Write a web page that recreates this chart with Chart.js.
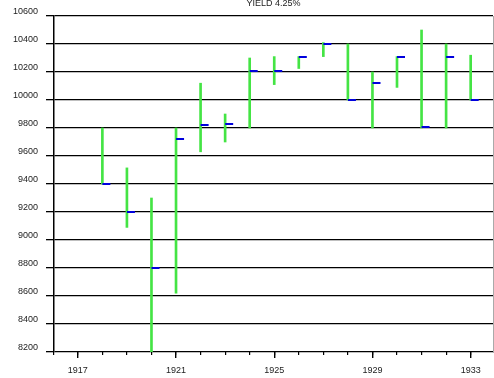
<!DOCTYPE html>
<html>
<head>
<meta charset="utf-8">
<script src="https://cdn.jsdelivr.net/npm/chart.js@4"></script>
<style>
  html, body { margin: 0; padding: 0; background: #fff; }
  #wrap { width: 494px; height: 378px; }
</style>
</head>
<body>
<div id="wrap"><canvas id="chart" width="494" height="378"></canvas></div>
<script>
const years = [1918, 1919, 1920, 1921, 1922, 1923, 1924, 1925, 1926, 1927, 1928, 1929, 1930, 1931, 1932, 1933];
const highs = [9800, 9515, 9300, 9800, 10120, 9900, 10300, 10310, 10310, 10410, 10400, 10200, 10310, 10500, 10400, 10320];
const lows = [9400, 9090, 8200, 8620, 9630, 9700, 9800, 10110, 10225, 10310, 10000, 9800, 10090, 9800, 9800, 10000];
const closes = [9400, 9200, 8800, 9720, 9820, 9830, 10210, 10210, 10310, 10400, 10000, 10120, 10310, 9810, 10310, 10000];
const minorTicks = [1916, 1917, 1918, 1919, 1920, 1921, 1922, 1923, 1924, 1925, 1926, 1927, 1928, 1929, 1930, 1931, 1932, 1933];
const majorTicks = [1917, 1921, 1925, 1929, 1933];

// small blue mark to the right of each bar for the close
const closeMark = document.createElement('canvas');
closeMark.width = 18;
closeMark.height = 2;
const cm = closeMark.getContext('2d');
cm.fillStyle = '#0000dd';
cm.fillRect(9, 0, 8, 2);

const font = { family: 'Liberation Sans, Arial, sans-serif', size: 9 };
const xMin = 1916.03, xMax = 1933.91;

// keep the edge labels from shrinking the plot area
const noSidePadding = s => { s.paddingLeft = 0; s.paddingRight = 0; };

new Chart(document.getElementById('chart'), {
  type: 'bar',
  data: {
    datasets: [
      {
        type: 'line',
        label: 'Close',
        data: years.map((yr, i) => ({ x: yr, y: closes[i] })),
        showLine: false,
        pointStyle: closeMark,
        pointRadius: 4,
        pointHoverRadius: 4
      },
      {
        label: 'Range',
        data: years.map((yr, i) => ({ x: yr, y: [lows[i], highs[i]] })),
        backgroundColor: '#44e444',
        borderWidth: 0,
        barThickness: 2
      }
    ]
  },
  options: {
    responsive: false,
    animation: false,
    events: [],
    layout: { padding: 0, autoPadding: false },
    plugins: {
      legend: { display: false },
      tooltip: { enabled: false },
      title: {
        display: true,
        fullSize: false,
        text: 'YIELD 4.25%',
        color: '#222',
        font: { family: font.family, size: 9, weight: 'normal' },
        padding: { top: -1.5, bottom: 6.7 }
      }
    },
    scales: {
      x: {
        type: 'linear',
        position: 'bottom',
        weight: -1,
        min: xMin,
        max: xMax,
        offset: false,
        afterBuildTicks: s => { s.ticks = minorTicks.map(v => ({ value: v })); },
        afterFit: s => { s.height = 0; noSidePadding(s); },
        ticks: { display: false },
        grid: { offset: false, drawOnChartArea: false, drawTicks: true, tickLength: 3, color: '#000', lineWidth: 1.2 },
        border: { display: false }
      },
      xMajor: {
        type: 'linear',
        position: 'bottom',
        weight: 0,
        min: xMin,
        max: xMax,
        offset: false,
        afterBuildTicks: s => { s.ticks = majorTicks.map(v => ({ value: v })); },
        afterFit: s => { s.height = 26; noSidePadding(s); },
        ticks: { color: '#222', font: font, padding: 7, maxRotation: 0, autoSkip: false, callback: v => String(v) },
        grid: { offset: false, drawOnChartArea: false, drawTicks: true, tickLength: 6, color: '#000', lineWidth: 1.4 },
        border: { display: false }
      },
      y: {
        min: 8200,
        max: 10600,
        afterFit: s => { s.width = 54; s.paddingTop = 0; s.paddingBottom = 0; },
        ticks: { stepSize: 200, color: '#222', font: font, padding: 8, labelOffset: -4, callback: v => String(v) },
        grid: { color: '#000', lineWidth: 1.3, tickLength: 8 },
        border: { color: '#000', width: 1.5 }
      },
      yRight: {
        position: 'right',
        min: 8200,
        max: 10600,
        afterFit: s => { s.width = 1; s.paddingTop = 0; s.paddingBottom = 0; },
        ticks: { display: false },
        grid: { display: false, drawTicks: false },
        border: { color: '#aaa', width: 1 }
      }
    }
  }
});
</script>
</body>
</html>
